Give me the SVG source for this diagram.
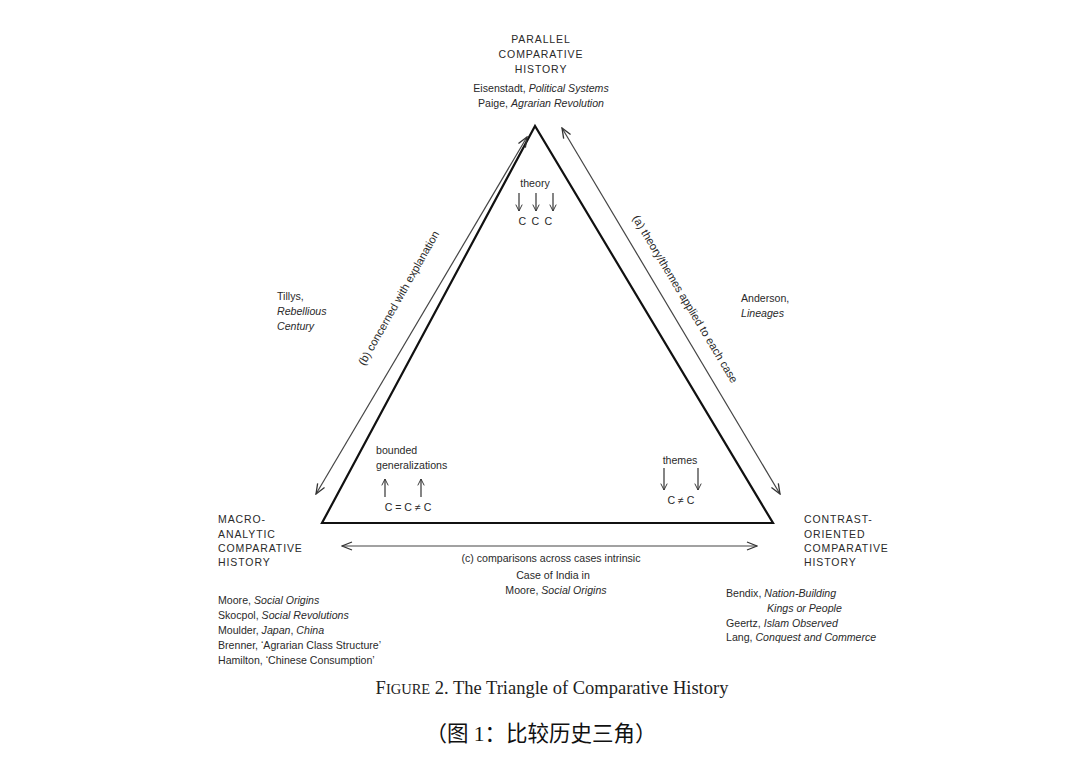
<svg xmlns="http://www.w3.org/2000/svg" width="1080" height="769" viewBox="0 0 1080 769">
<defs>
<marker id="ah" viewBox="0 0 12 10" refX="11" refY="5" markerWidth="12" markerHeight="10" markerUnits="userSpaceOnUse" orient="auto-start-reverse">
<path d="M1,1 L11,5 L1,9" fill="none" stroke="#333" stroke-width="1.3"/>
</marker>
<marker id="sa" viewBox="0 0 10 10" refX="9" refY="5" markerWidth="9" markerHeight="8" markerUnits="userSpaceOnUse" orient="auto">
<path d="M1,1 L9,5 L1,9" fill="none" stroke="#333" stroke-width="1.2"/>
</marker>
</defs>
<style>
text{font-family:"Liberation Sans",Arial,sans-serif;fill:#2a2a2a;}
.h{font-size:10.5px;letter-spacing:0.9px;}
.s{font-size:10.6px;}
.r{font-size:11.2px;}
.i{font-style:italic;}
.conn{stroke:#444;stroke-width:1.2;fill:none;}
.mini{stroke:#333;stroke-width:1.2;fill:none;}
</style>
<rect width="1080" height="769" fill="#fff"/>

<g id="triangle">
<path d="M535,126 L322,523 L773,523 Z" fill="none" stroke="#111" stroke-width="2.2" stroke-linejoin="miter"/>
</g>

<g id="connectors">
<line class="conn" x1="316" y1="494" x2="527" y2="137" marker-start="url(#ah)" marker-end="url(#ah)"/>
<line class="conn" x1="562" y1="128" x2="780" y2="494" marker-start="url(#ah)" marker-end="url(#ah)"/>
<line class="conn" x1="342" y1="546" x2="757" y2="546" marker-start="url(#ah)" marker-end="url(#ah)"/>
<text class="r" transform="translate(402,300) rotate(-60.5)" text-anchor="middle">(b) concerned with explanation</text>
<text class="r" transform="translate(682,301) rotate(59)" text-anchor="middle">(a) theory/themes applied to each case</text>
<text class="s" x="551" y="562" text-anchor="middle">(c) comparisons across cases intrinsic</text>
</g>

<g id="parallel">
<text class="h" x="541" y="43" text-anchor="middle">PARALLEL</text>
<text class="h" x="541" y="58" text-anchor="middle">COMPARATIVE</text>
<text class="h" x="541" y="73" text-anchor="middle">HISTORY</text>
<text class="s" x="541" y="92" text-anchor="middle">Eisenstadt, <tspan class="i">Political Systems</tspan></text>
<text class="s" x="541" y="107" text-anchor="middle">Paige, <tspan class="i">Agrarian Revolution</tspan></text>
</g>

<g id="theory">
<text class="s" x="535" y="187" text-anchor="middle">theory</text>
<line class="mini" x1="519" y1="193" x2="519" y2="211" marker-end="url(#sa)"/>
<line class="mini" x1="536" y1="193" x2="536" y2="211" marker-end="url(#sa)"/>
<line class="mini" x1="553" y1="193" x2="553" y2="211" marker-end="url(#sa)"/>
<text class="s" x="536" y="225" text-anchor="middle" letter-spacing="1.2">C C C</text>
</g>

<g id="tillys">
<text class="s" x="277" y="300">Tillys,</text>
<text class="s i" x="277" y="315">Rebellious</text>
<text class="s i" x="277" y="330">Century</text>
</g>

<g id="anderson">
<text class="s" x="741" y="302">Anderson,</text>
<text class="s i" x="741" y="317">Lineages</text>
</g>

<g id="bounded">
<text class="s" x="376" y="454">bounded</text>
<text class="s" x="376" y="469">generalizations</text>
<line class="mini" x1="385" y1="497" x2="385" y2="479" marker-end="url(#sa)"/>
<line class="mini" x1="421" y1="497" x2="421" y2="479" marker-end="url(#sa)"/>
<text class="s" x="408" y="511" text-anchor="middle">C = C ≠ C</text>
</g>

<g id="themes">
<text class="s" x="680" y="464" text-anchor="middle">themes</text>
<line class="mini" x1="664" y1="468" x2="664" y2="490" marker-end="url(#sa)"/>
<line class="mini" x1="698" y1="468" x2="698" y2="490" marker-end="url(#sa)"/>
<text class="s" x="681" y="504" text-anchor="middle">C ≠ C</text>
</g>

<g id="macro">
<text class="h" x="218" y="523">MACRO-</text>
<text class="h" x="218" y="538">ANALYTIC</text>
<text class="h" x="218" y="552">COMPARATIVE</text>
<text class="h" x="218" y="566">HISTORY</text>
<text class="s" x="218" y="604">Moore, <tspan class="i">Social Origins</tspan></text>
<text class="s" x="218" y="619">Skocpol, <tspan class="i">Social Revolutions</tspan></text>
<text class="s" x="218" y="634">Moulder, <tspan class="i">Japan</tspan>, <tspan class="i">China</tspan></text>
<text class="s" x="218" y="649">Brenner, ‘Agrarian Class Structure’</text>
<text class="s" x="218" y="664">Hamilton, ‘Chinese Consumption’</text>
</g>

<g id="contrast">
<text class="h" x="804" y="523">CONTRAST-</text>
<text class="h" x="804" y="538">ORIENTED</text>
<text class="h" x="804" y="552">COMPARATIVE</text>
<text class="h" x="804" y="566">HISTORY</text>
<text class="s" x="726" y="597">Bendix, <tspan class="i">Nation-Building</tspan></text>
<text class="s i" x="767" y="612">Kings or People</text>
<text class="s" x="726" y="627">Geertz, <tspan class="i">Islam Observed</tspan></text>
<text class="s" x="726" y="641">Lang, <tspan class="i">Conquest and Commerce</tspan></text>
</g>

<g id="india">
<text class="s" x="553" y="579" text-anchor="middle">Case of India in</text>
<text class="s" x="556" y="594" text-anchor="middle">Moore, <tspan class="i">Social Origins</tspan></text>
</g>

<g id="caption">
<text x="552" y="694" text-anchor="middle" style="font-family:'Liberation Serif','Times New Roman',serif;font-size:18.5px;fill:#222">F<tspan font-size="14.5px">IGURE</tspan> 2. The Triangle of Comparative History</text>
<text x="541" y="741" text-anchor="middle" style="font-family:'Liberation Serif','Noto Sans CJK SC',serif;font-size:21.5px;fill:#111">（图 1：比较历史三角）</text>
</g>
</svg>
